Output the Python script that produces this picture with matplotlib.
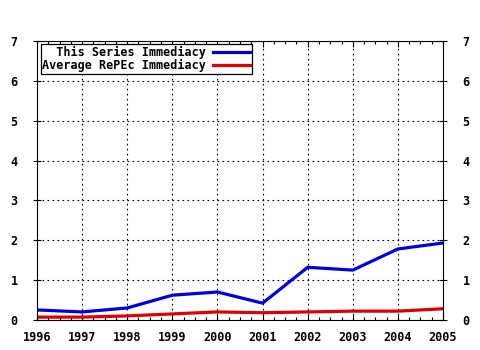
import matplotlib
matplotlib.use("Agg")
import matplotlib.pyplot as plt
from matplotlib.ticker import MultipleLocator

# values
years = [1996, 1997, 1998, 1999, 2000, 2001, 2002, 2003, 2004, 2005]
series_imm = [0.25, 0.20, 0.30, 0.62, 0.70, 0.42, 1.32, 1.25, 1.78, 1.93]
repec_imm = [0.07, 0.07, 0.10, 0.15, 0.20, 0.18, 0.20, 0.22, 0.22, 0.28]
labels = ["  This Series Immediacy", "Average RePEc Immediacy"]

plt.rcParams['font.family'] = ['DejaVu Sans Mono']
plt.rcParams['font.weight'] = 'bold'

fig = plt.figure(figsize=(4.8, 3.5), dpi=100)
ax = fig.add_axes([0.077, 0.086, 0.846, 0.797])

ax.plot(years, series_imm, color='#0000dd', lw=2.3, label=labels[0])
ax.plot(years, repec_imm, color='#dd0000', lw=2.3, label=labels[1])

ax.set_xlim(1996, 2005)
ax.set_ylim(0, 7)
ax.xaxis.set_major_locator(MultipleLocator(1))
ax.xaxis.set_minor_locator(MultipleLocator(0.25))
ax.yaxis.set_major_locator(MultipleLocator(1))
ax.grid(True, which='major', color='black', linestyle=(0, (1.5, 3)), lw=0.8)

ax.tick_params(axis='x', which='both', direction='in', top=True,
               labelsize=8.5, width=0.8)
ax.tick_params(axis='x', which='major', length=4, pad=8)
ax.tick_params(axis='x', which='minor', length=2)
ax.tick_params(axis='y', which='major', direction='inout', right=True,
               labelright=True, labelsize=8.5, width=0.8, length=6, pad=11)
for lab in ax.get_xticklabels() + ax.get_yticklabels():
    lab.set_fontweight('bold')
for s in ax.spines.values():
    s.set_linewidth(0.8)

leg = ax.legend(loc='upper left', markerfirst=False, fancybox=False,
                framealpha=1, edgecolor='black', fontsize=8.5,
                handlelength=3.2, borderpad=0.1, labelspacing=0.05,
                borderaxespad=0.3, handletextpad=0.6)
leg.get_frame().set_linewidth(0.9)
for t in leg.get_texts():
    t.set_fontweight('bold')

fig.savefig('out.png', dpi=100)
